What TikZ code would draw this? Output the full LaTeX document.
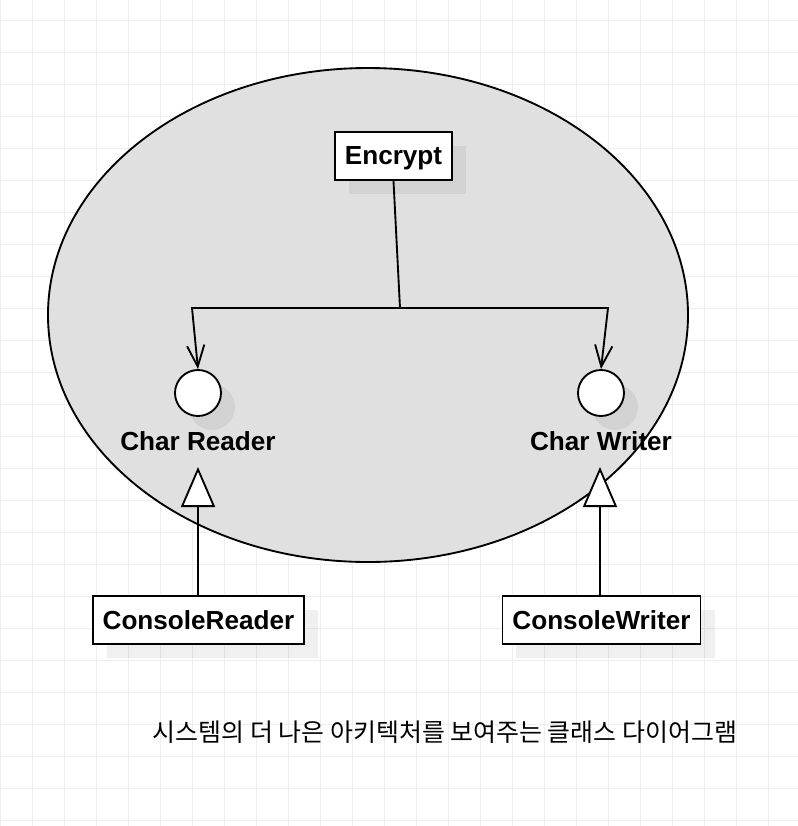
\documentclass[tikz,border=0pt]{standalone}
\usepackage{fontspec}
\setmainfont{Liberation Sans}
\newfontfamily\kofont{Noto Sans CJK KR}
\usepackage{tikz}
\usetikzlibrary{
	arrows.meta,
	shadows
}
\definecolor{gridgray}{HTML}{EEEEEE}
\definecolor{bubble}{HTML}{E0E0E0}

\begin{document}
\begin{tikzpicture}[
		x=0.75pt, y=-0.75pt,
		every node/.style={font=\fontsize{19.6}{22}\selectfont\bfseries},
		gridline/.style={gridgray, line width=0.75pt},
		shade/.style={drop shadow={shadow xshift=10.5pt, shadow yshift=-10.5pt, fill=black, opacity=0.06}},
		klass/.style={draw, fill=white, line width=1.4pt, inner xsep=7.5pt, text depth=0pt, minimum height=36pt, shade},
		iface/.style={circle, draw, fill=white, line width=1.4pt, minimum size=34.5pt, inner sep=0pt, shade},
		uses/.style={line width=1.4pt, -{Straight Barb[length=16pt, width=13pt]}},
		realizes/.style={line width=1.4pt, -{Triangle[fill=white, length=30pt, width=25.5pt]}}
	]
		\useasboundingbox (0,0) rectangle (798,826);

		% background grid
		\foreach \gx in {0,32,...,800}
			\draw[gridline] (\gx,0) -- (\gx,826);
		\foreach \gy in {20,52,...,820}
			\draw[gridline] (0,\gy) -- (798,\gy);

		% system boundary
		\draw[fill=bubble, line width=1.4pt] (368,315) ellipse [x radius=240pt, y radius=185.25pt];

		\draw
			node[klass] (enc)     at (393.5,156) {Encrypt}
			node[iface] (rdr)     at (198,393)   {}
			node[iface] (wtr)     at (601,393)   {}
			node        (rdlabel) at (198,441)   {Char Reader}
			node        (wtlabel) at (601,441)   {Char Writer}
			node[klass] (creader) at (198.5,620) {ConsoleReader}
			node[klass] (cwriter) at (601.5,620) {ConsoleWriter}
			node[font=\kofont\fontsize{18.7}{22}\selectfont] (caption) at (445,732)
				{시스템의 더 나은 아키텍처를 보여주는 클래스 다이어그램}
		;

		\coordinate (split) at (400,308);
		\coordinate (lbend) at (192,308);
		\coordinate (rbend) at (608,308);
		\coordinate (rdtip) at (198,467);
		\coordinate (wttip) at (600,467);

		\draw[line width=1.4pt] (enc.south) -- (split);
		\draw[uses] (split) -- (lbend) -- (rdr.north);
		\draw[uses] (split) -- (rbend) -- (wtr.north);

		\draw[realizes] (creader.north -| rdtip) -- (rdtip);
		\draw[realizes] (cwriter.north -| wttip) -- (wttip);
	\end{tikzpicture}
\end{document}
